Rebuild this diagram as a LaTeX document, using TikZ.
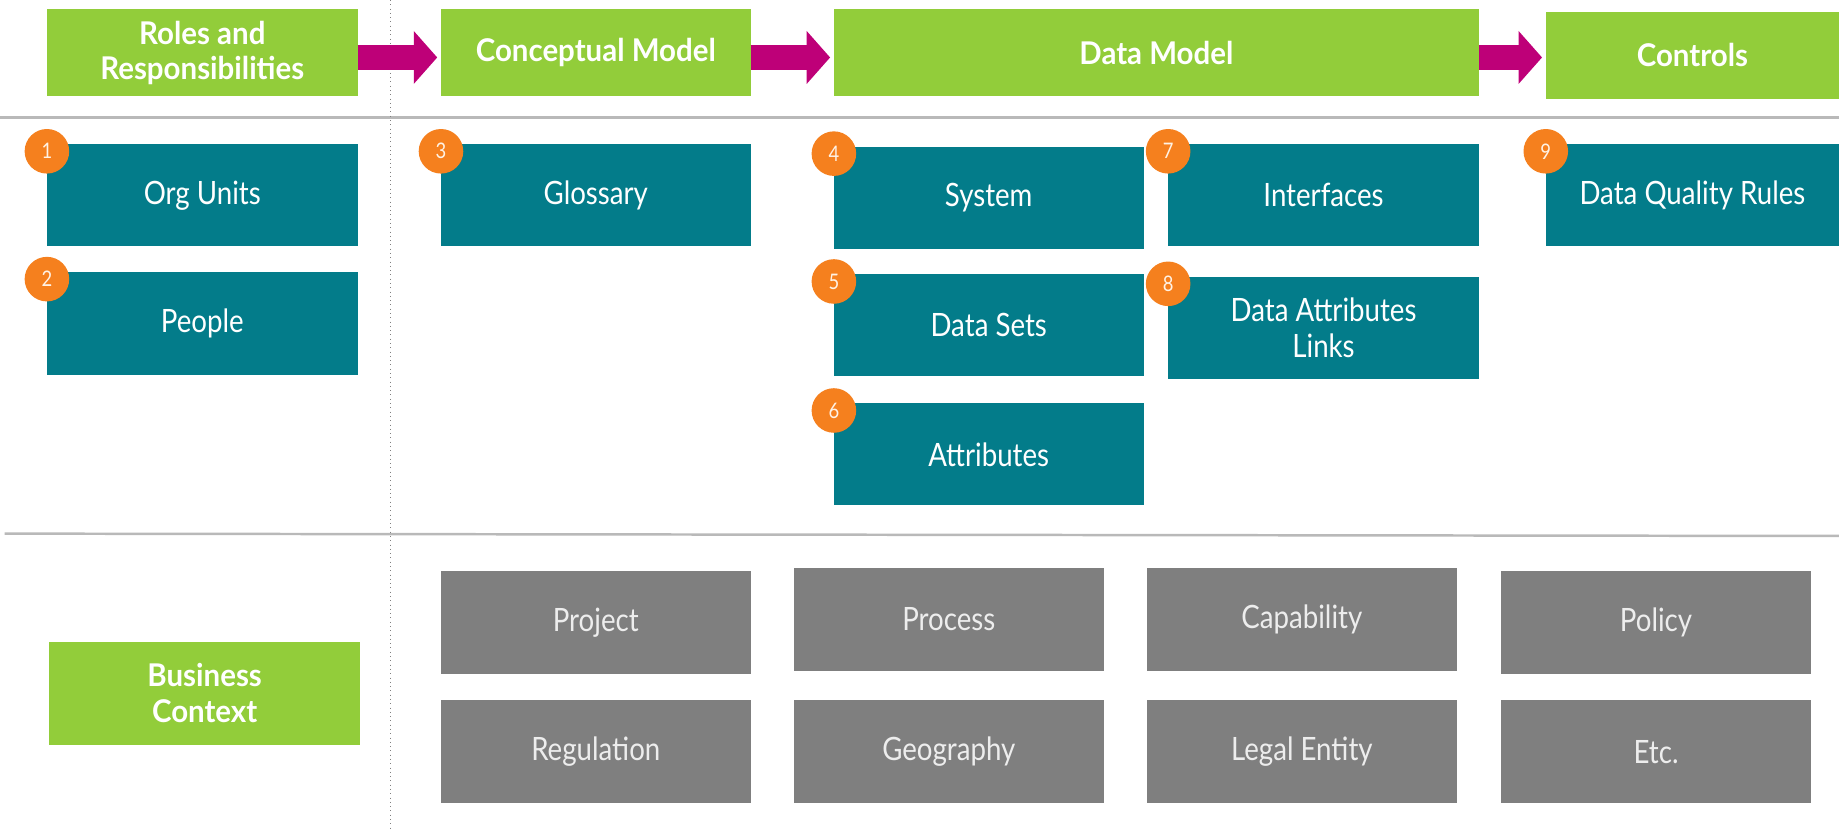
\documentclass[tikz,border=0pt]{standalone}
\usepackage{fontspec}
\setmainfont{Lato}[FakeStretch=0.86, BoldFeatures={FakeStretch=0.94}]
\usetikzlibrary{arrows.meta}
\definecolor{hgreen}{RGB}{146,205,58}
\definecolor{teal}{RGB}{3,124,138}
\definecolor{boxgray}{RGB}{127,127,127}
\definecolor{badgeor}{RGB}{245,128,30}
\definecolor{magarrow}{RGB}{190,0,120}
\definecolor{sepline}{RGB}{185,185,185}
\newcommand\bx[7]{\node[#6, anchor=north west, minimum width={(#4-#2)*0.025cm}, minimum height={(#5-#3)*0.025cm}] (#1) at (#2,#3) {#7};}
\newcommand\badge[3]{\node[badgestyle] (#1) at ([yshift=-0.15cm]#2.north west) {#3};}
\tikzset{
  base/.style={inner sep=0pt, outer sep=0pt, align=center, text=white},
  header/.style={base, fill=hgreen, font=\fontsize{19}{21.5}\selectfont\bfseries},
  tealbox/.style={base, fill=teal, font=\fontsize{19.5}{22}\selectfont},
  graybox/.style={base, fill=boxgray, text=white!93!black, font=\fontsize{19.5}{22}\selectfont},
  badgestyle/.style={circle, fill=badgeor, text=white!90!orange, minimum size=0.95cm, inner sep=0pt, font=\fontsize{13}{15}\selectfont},
  flow/.style={magarrow, line width=0.53cm, -{Triangle[length=0.5cm, width=1.1cm]}, shorten >=0.08cm},
  sep/.style={sepline, line width=1.5pt},
  vsep/.style={gray, line width=0.6pt, dotted}
}
\begin{document}
\begin{tikzpicture}[x=0.025cm, y=-0.025cm]
\useasboundingbox (0,0) rectangle (1568,707);
% separators
\coordinate (h1l) at (0,100); \coordinate (h1r) at (1568,100);
\coordinate (h2l) at (4,455); \coordinate (h2r) at (1568,457);
\coordinate (vt) at (333,0); \coordinate (vb) at (333,707);
\draw[sep] (h1l) -- (h1r);
\draw[sep] (h2l) -- (h2r);
\draw[vsep] (vt) -- (vb);
% headers
\bx{rr}{40}{8}{305}{82}{header}{Roles and\\Responsibilities}
\bx{cm}{376}{8}{640}{82}{header}{Conceptual Model}
\bx{dm}{711}{8}{1261}{82}{header}{Data Model}
\bx{ct}{1318}{10}{1568}{84}{header}{Controls}
\bx{bc}{42}{547}{307}{635}{header}{Business\\Context}
% arrows
\draw[flow] ([yshift=-0.1cm]rr.east) -- ([yshift=-0.1cm]cm.west);
\draw[flow] ([yshift=-0.1cm]cm.east) -- ([yshift=-0.1cm]dm.west);
\draw[flow] ([yshift=-0.1cm]dm.east) -- ([yshift=-0.1cm]dm.east -| ct.west);
% teal boxes
\bx{ou}{40}{123}{305}{210}{tealbox}{Org Units}
\bx{pp}{40}{232}{305}{320}{tealbox}{People}
\bx{gl}{376}{123}{640}{210}{tealbox}{Glossary}
\bx{sy}{711}{125}{975}{212}{tealbox}{System}
\bx{ds}{711}{234}{975}{321}{tealbox}{Data Sets}
\bx{at}{711}{344}{975}{431}{tealbox}{Attributes}
\bx{if}{996}{123}{1261}{210}{tealbox}{Interfaces}
\bx{dal}{996}{236}{1261}{323}{tealbox}{Data Attributes\\Links}
\bx{dq}{1318}{123}{1568}{210}{tealbox}{Data Quality Rules}
% gray boxes
\bx{pj}{376}{487}{640}{575}{graybox}{Project}
\bx{pr}{677}{484}{941}{572}{graybox}{Process}
\bx{cp}{978}{484}{1242}{572}{graybox}{Capability}
\bx{po}{1280}{487}{1544}{575}{graybox}{Policy}
\bx{rg}{376}{597}{640}{685}{graybox}{Regulation}
\bx{ge}{677}{597}{941}{685}{graybox}{Geography}
\bx{le}{978}{597}{1242}{685}{graybox}{Legal Entity}
\bx{et}{1280}{597}{1544}{685}{graybox}{Etc.}
% badges
\badge{b1}{ou}{1}
\badge{b2}{pp}{2}
\badge{b3}{gl}{3}
\badge{b4}{sy}{4}
\badge{b5}{ds}{5}
\badge{b6}{at}{6}
\badge{b7}{if}{7}
\badge{b8}{dal}{8}
\badge{b9}{dq}{9}
\end{tikzpicture}
\end{document}
